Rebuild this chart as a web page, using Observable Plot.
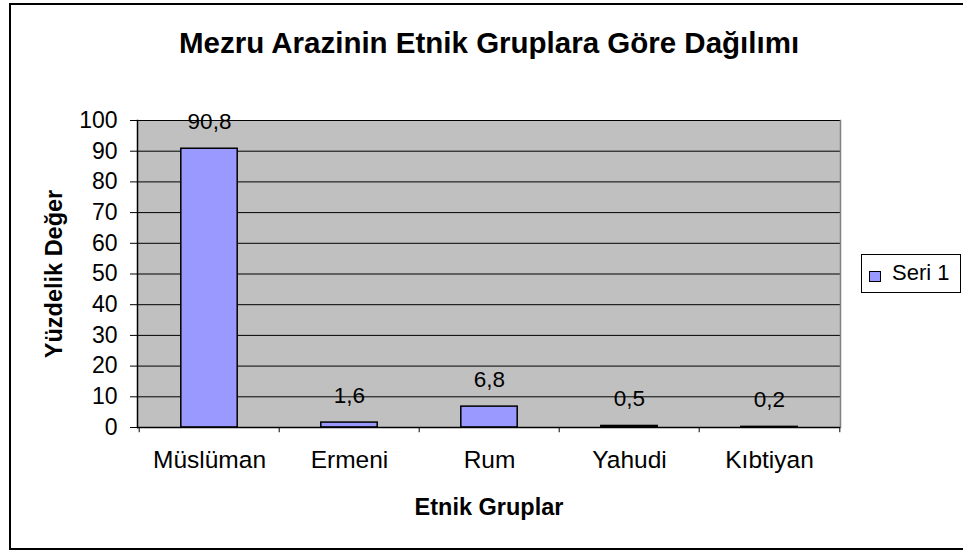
<!DOCTYPE html>
<html>
<head>
<meta charset="utf-8">
<script src="https://cdn.jsdelivr.net/npm/d3@7"></script>
<script src="https://cdn.jsdelivr.net/npm/@observablehq/plot@0.6"></script>
<style>
  html, body { margin: 0; padding: 0; background: #fff; overflow: hidden; }
  #wrap { position: relative; width: 963px; height: 551px; }
  #border { position: absolute; left: 9px; top: 3px; width: 1000px; height: 543px; border: 2px solid #000; pointer-events: none; }
  #legend { position: absolute; left: 861px; top: 254px; width: 98px; height: 37px; border: 1px solid #000; background: #fff;
            font-family: "Liberation Sans", Arial, sans-serif; font-size: 22px; }
  #legend .sw { position: absolute; left: 7px; top: 16px; width: 10px; height: 9px; border: 1px solid #000; background: #9999ff; }
  #legend .lb { position: absolute; left: 30px; top: 5px; }
</style>
</head>
<body>
<div id="wrap"></div>
<script>
const categories = ["Müslüman", "Ermeni", "Rum", "Yahudi", "Kıbtiyan"];
const values = [90.8, 1.6, 6.8, 0.5, 0.2];
const valueLabels = ["90,8", "1,6", "6,8", "0,5", "0,2"];
const yTicks = [0, 10, 20, 30, 40, 50, 60, 70, 80, 90, 100];
const seriesName = "Seri 1";
const title = "Mezru Arazinin Etnik Gruplara Göre Dağılımı";
const xTitle = "Etnik Gruplar";
const yTitle = "Yüzdelik Değer";

const data = categories.map((c, i) => ({cat: c, value: values[i], label: valueLabels[i]}));

const W = 963, H = 551;
const mL = 137, mR = 123, mT = 120, mB = 124;
const band = (W - mL - mR) / categories.length;
const half = band / 2;
const barInset = (band - 57) / 2;
const font = '"Liberation Sans", Arial, sans-serif';

const chart = Plot.plot({
  width: W, height: H,
  marginLeft: mL, marginRight: mR, marginTop: mT, marginBottom: mB,
  style: {fontFamily: font, fontSize: "22px", color: "#000", background: "transparent"},
  x: {domain: categories, padding: 0, label: null},
  y: {domain: [0, 100], label: null},
  marks: [
    Plot.frame({fill: "#c0c0c0", stroke: null}),
    Plot.ruleY(yTicks, {stroke: "#000", strokeWidth: 1}),
    Plot.frame({anchor: "right", stroke: "#808080", strokeWidth: 1.5}),
    Plot.barY(data, {x: "cat", y: "value", fill: "#9999ff", stroke: "#000", strokeWidth: 1.5, insetLeft: barInset, insetRight: barInset}),
    Plot.ruleY([0], {stroke: "#000", strokeWidth: 1.5}),
    Plot.frame({anchor: "left", stroke: "#000", strokeWidth: 1.5}),
    Plot.ruleX(categories, {x: d => d, dx: -half, y1: 0, y2: -1.7, stroke: "#000"}),
    Plot.ruleX(categories.slice(-1), {x: d => d, dx: half, y1: 0, y2: -1.7, stroke: "#000"}),
    Plot.axisY({ticks: yTicks, tickSize: 7, tickPadding: 13, fontSize: 23, label: null}),
    Plot.axisX({tickSize: 0, tickPadding: 23, fontSize: 24.5, label: null}),
    Plot.text(data, {x: "cat", y: "value", text: "label", dy: -27, fontSize: 22.5}),
    Plot.text([title], {frameAnchor: "top", lineAnchor: "middle", dy: -77, fontSize: 29.5, fontWeight: "bold"}),
    Plot.text([xTitle], {frameAnchor: "bottom", lineAnchor: "middle", dy: 80, fontSize: 23.5, fontWeight: "bold"}),
    Plot.text([yTitle], {frameAnchor: "left", textAnchor: "middle", lineAnchor: "middle", dx: -83, rotate: -90, fontSize: 23.5, fontWeight: "bold"})
  ]
});

const wrap = document.getElementById("wrap");
wrap.appendChild(chart);
chart.style.position = "absolute";
chart.style.left = "0px";
chart.style.top = "0px";

const border = document.createElement("div");
border.id = "border";
wrap.appendChild(border);

const legend = document.createElement("div");
legend.id = "legend";
legend.innerHTML = '<div class="sw"></div><div class="lb"></div>';
legend.querySelector(".lb").textContent = seriesName;
wrap.appendChild(legend);
</script>
</body>
</html>
